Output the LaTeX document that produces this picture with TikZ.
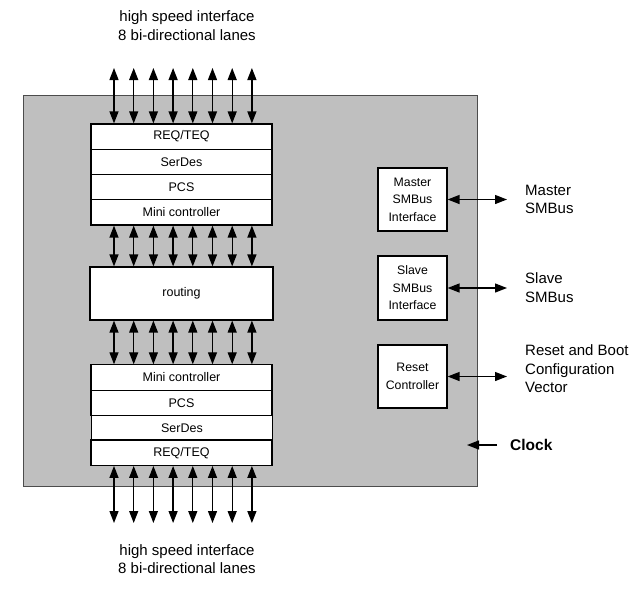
\documentclass[tikz,border=0pt]{standalone}
\usepackage{fontspec}
\setmainfont{Liberation Sans}
\usetikzlibrary{arrows.meta}
\tikzset{
  blk/.style={draw,fill=white,line width=1.2pt,inner sep=0pt,
    minimum width=181pt,minimum height=25.25pt,
    font=\fontsize{12.5}{17.5}\selectfont},
  sidebox/.style={draw,fill=white,line width=1.2pt,inner sep=0pt,
    minimum width=69pt,minimum height=63pt,align=center,
    font=\fontsize{12.3}{17.5}\selectfont},
  lbl/.style={inner sep=0pt,align=left,anchor=west,
    font=\fontsize{15}{18.5}\selectfont},
  lane/.style={{Triangle[width=9pt,length=12pt]}-{Triangle[width=9pt,length=12pt]},line width=1.3pt},
}
\begin{document}
\begin{tikzpicture}[x=1pt,y=-1pt]
        \useasboundingbox (0,0) rectangle (640,590);
        %chip
        \draw[fill=gray!50,draw=black!70,line width=0.8pt] (23,95) rectangle (477,486);

        %lane ends
        \coordinate (top) at (0,68);
        \coordinate (bot) at (0,523);
        \foreach \i in {0,...,7}
            \coordinate (l\i) at ({114+19.7*\i},0);

        %upper stack
        \node[blk] (reqT) at (181.5,136.6) {REQ/TEQ};
        \node[blk] (serT) at (181.5,161.9) {SerDes};
        \node[blk] (pcsT) at (181.5,187.1) {PCS};
        \node[blk] (mcT)  at (181.5,212.4) {Mini controller};

        %routing
        \node[blk,minimum width=183pt,minimum height=53pt] (rt) at (181.5,293.5) {routing};

        %lower stack
        \node[blk] (mcB)  at (181.5,377.5) {Mini controller};
        \node[blk] (pcsB) at (181.5,402.8) {PCS};
        \node[blk] (serB) at (182,428) {SerDes};
        \node[blk] (reqB) at (181.5,452.7) {REQ/TEQ};

        %lanes
        \foreach \i in {0,...,7} {
            \draw[lane] (l\i |- top) -- (l\i |- reqT.north);
            \draw[lane] (l\i |- mcT.south) -- (l\i |- rt.north);
            \draw[lane] (l\i |- rt.south) -- (l\i |- mcB.north);
            \draw[lane] (l\i |- reqB.south) -- (l\i |- bot);
        }
        \node[lbl,anchor=center,align=center] (hsT) at (187,25.5) {high speed interface\\8 bi-directional lanes};
        \node[lbl,anchor=center,align=center] (hsB) at (187,559) {high speed interface\\8 bi-directional lanes};

        %smbus and reset
        \node[sidebox] (ms) at (412.5,199.5) {Master\\SMBus\\Interface};
        \node[sidebox,minimum height=64pt] (ss) at (412.5,288) {Slave\\SMBus\\Interface};
        \node[sidebox] (rc) at (412.5,376.5) {Reset\\Controller};
        \node[lbl] (msl) at (525,199.5) {Master\\SMBus};
        \node[lbl] (ssl) at (525,287.5) {Slave\\SMBus};
        \node[lbl] (rcl) at (525,369) {Reset and Boot\\Configuration\\Vector};
        \draw[lane,shorten >=18pt] (ms.east) -- (ms.east -| msl.west);
        \draw[lane,shorten >=18pt] (ss.east) -- (ss.east -| ssl.west);
        \draw[lane,shorten >=18pt] (rc.east) -- (rc.east -| rcl.west);

        %clock
        \node[lbl,font=\fontsize{15.5}{18.5}\selectfont\bfseries] (clk) at (510,445) {Clock};
        \coordinate (clkin) at (467,445);
        \draw[-{Triangle[width=9pt,length=12pt]},line width=1.3pt,shorten <=13pt] (clk.west) -- (clkin);
    \end{tikzpicture}
\end{document}
